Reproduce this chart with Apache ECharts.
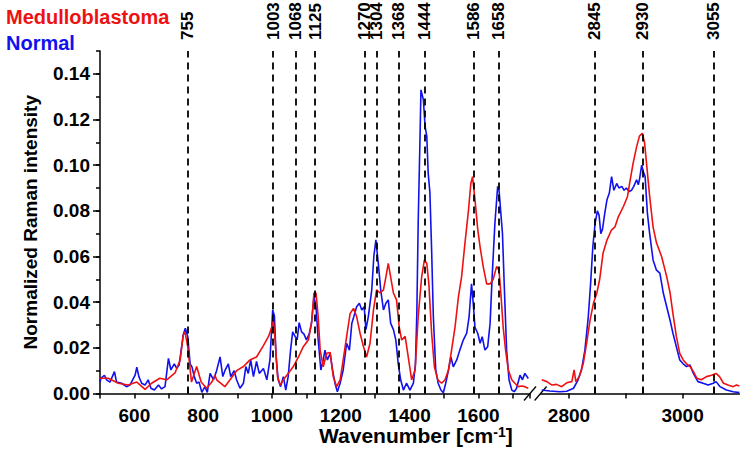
<!DOCTYPE html>
<html>
<head>
<meta charset="utf-8">
<script src="https://cdn.jsdelivr.net/npm/echarts@6/dist/echarts.min.js"></script>
<style>
html,body{margin:0;padding:0;background:#fff;}
#chart{width:742px;height:452px;}
</style>
</head>
<body>
<div id="chart"></div>
<script>
// Peak marker positions (cm^-1)
const peaksLow = [755, 1003, 1068, 1125, 1270, 1304, 1368, 1444, 1586, 1658];
const peaksHigh = [2845, 2930, 3055];
// Tick labels
const yTickValues = [0, 0.02, 0.04, 0.06, 0.08, 0.10, 0.12, 0.14];
const xLowLabels = [600, 800, 1000, 1200, 1400, 1600];
const xHighTicks = [2800, 2900, 3000];
const xHighLabels = [2800, 3000];

// Normal tissue, fingerprint region [wavenumber, intensity]
const normalLow = [[500,0.005],[503,0.0067],[513,0.008],[519,0.006],[529,0.005],[542,0.0096],[548,0.005],[563,0.0045],[577,0.003],[587,0.0037],[602,0.008],[607,0.0115],[613,0.0074],[621,0.0045],[631,0.0037],[640,0.006],[648,0.0023],[658,0.0015],[670,0.0037],[679,0.002],[689,0.003],[699,0.0154],[706,0.0103],[716,0.013],[723,0.011],[730,0.0125],[736,0.019],[742,0.0257],[748,0.0286],[755,0.025],[762,0.013],[767,0.0118],[774,0.0074],[781,0.0045],[788,0.005],[796,0.0005],[805,0.003],[812,0.0005],[820,0.0088],[830,0.006],[839,0.010],[849,0.016],[857,0.0074],[863,0.010],[873,0.013],[880,0.0074],[890,0.010],[897,0.006],[907,0.0023],[917,0.0045],[924,0.0118],[931,0.0088],[938,0.0147],[946,0.0074],[955,0.014],[963,0.0088],[975,0.011],[985,0.006],[994,0.0147],[1002,0.0366],[1007,0.034],[1012,0.016],[1018,0.006],[1025,0.003],[1033,0.0074],[1040,0.0015],[1047,0.0074],[1054,0.019],[1060,0.027],[1067,0.025],[1073,0.0235],[1079,0.031],[1086,0.027],[1093,0.026],[1100,0.0235],[1108,0.026],[1115,0.031],[1122,0.0425],[1128,0.038],[1134,0.024],[1142,0.0103],[1149,0.0147],[1154,0.019],[1161,0.0147],[1169,0.0176],[1176,0.0103],[1183,0.0045],[1190,0.0008],[1198,0.0045],[1207,0.0103],[1217,0.022],[1225,0.019],[1232,0.0307],[1238,0.0337],[1246,0.038],[1254,0.0395],[1261,0.0366],[1268,0.038],[1273,0.028],[1280,0.0337],[1290,0.0454],[1296,0.060],[1302,0.0673],[1309,0.057],[1316,0.0454],[1324,0.0366],[1331,0.0395],[1338,0.041],[1345,0.0307],[1353,0.028],[1360,0.0234],[1367,0.013],[1374,0.006],[1382,0.0015],[1391,0.0045],[1401,0.0015],[1411,0.0045],[1417,0.013],[1421,0.035],[1425,0.075],[1430,0.11],[1433,0.133],[1440,0.1287],[1445,0.117],[1450,0.1126],[1454,0.0966],[1459,0.088],[1464,0.063],[1469,0.0337],[1476,0.0103],[1483,0.0045],[1491,0.0015],[1498,0.0003],[1505,0.0045],[1513,0.0103],[1520,0.016],[1527,0.0117],[1537,0.0147],[1546,0.019],[1556,0.0234],[1566,0.0264],[1573,0.0337],[1580,0.048],[1585,0.0395],[1590,0.029],[1598,0.0264],[1605,0.022],[1611,0.0249],[1619,0.019],[1627,0.0205],[1634,0.0307],[1640,0.0512],[1648,0.0746],[1656,0.0907],[1660,0.089],[1666,0.0775],[1670,0.070],[1675,0.048],[1682,0.019],[1689,0.006],[1697,0.0015],[1704,0.0008],[1711,0.0023],[1721,0.008],[1728,0.006],[1735,0.0088],[1745,0.0066]];

// Medulloblastoma, fingerprint region
const medulloLow = [[500,0.0067],[524,0.0067],[553,0.0045],[582,0.0037],[607,0.005],[631,0.0018],[650,0.0045],[674,0.0067],[694,0.006],[718,0.009],[733,0.0147],[742,0.0257],[747,0.027],[755,0.0205],[766,0.005],[781,0.0118],[794,0.005],[810,0.0023],[825,0.005],[834,0.008],[839,0.006],[863,0.003],[878,0.006],[897,0.010],[917,0.0118],[936,0.0147],[955,0.016],[975,0.021],[990,0.025],[999,0.029],[1004,0.032],[1009,0.0235],[1016,0.0074],[1024,0.0037],[1033,0.006],[1047,0.0088],[1062,0.0118],[1077,0.016],[1091,0.0205],[1106,0.0235],[1115,0.031],[1122,0.044],[1128,0.044],[1134,0.034],[1140,0.019],[1149,0.0117],[1159,0.0176],[1169,0.018],[1178,0.0074],[1188,0.003],[1198,0.006],[1207,0.0147],[1217,0.025],[1227,0.035],[1237,0.0373],[1246,0.0337],[1256,0.0264],[1266,0.0205],[1275,0.016],[1285,0.022],[1295,0.0366],[1304,0.0454],[1314,0.044],[1324,0.0454],[1331,0.051],[1338,0.057],[1345,0.051],[1353,0.044],[1362,0.041],[1370,0.029],[1377,0.0234],[1387,0.025],[1396,0.016],[1406,0.006],[1416,0.0103],[1425,0.0337],[1435,0.051],[1443,0.0585],[1450,0.057],[1456,0.048],[1464,0.0264],[1472,0.0117],[1482,0.006],[1493,0.0045],[1503,0.006],[1513,0.0103],[1522,0.019],[1532,0.029],[1542,0.0424],[1551,0.051],[1561,0.066],[1571,0.080],[1578,0.092],[1583,0.095],[1590,0.085],[1598,0.072],[1605,0.064],[1614,0.0556],[1624,0.048],[1634,0.048],[1643,0.050],[1653,0.0556],[1660,0.054],[1666,0.0424],[1672,0.029],[1679,0.019],[1687,0.0103],[1697,0.006],[1706,0.0045],[1716,0.003],[1726,0.0033],[1735,0.003],[1745,0.0023]];

// Normal tissue, high-wavenumber region
const normalHigh = [[2752,0.0015],[2766,0.0011],[2784,0.0008],[2796,0.001],[2808,0.0023],[2816,0.006],[2822,0.0103],[2828,0.019],[2834,0.0337],[2838,0.048],[2842,0.0644],[2846,0.0746],[2850,0.080],[2853,0.078],[2856,0.070],[2859,0.072],[2863,0.079],[2867,0.085],[2871,0.0878],[2875,0.095],[2879,0.089],[2884,0.092],[2888,0.090],[2893,0.0907],[2897,0.089],[2901,0.090],[2906,0.0885],[2910,0.089],[2914,0.0907],[2919,0.0936],[2922,0.0914],[2924,0.0936],[2928,0.100],[2931,0.097],[2934,0.095],[2938,0.079],[2942,0.070],[2948,0.0585],[2954,0.054],[2960,0.0527],[2966,0.044],[2972,0.038],[2978,0.032],[2983,0.0264],[2989,0.0205],[2995,0.0147],[3001,0.013],[3007,0.0118],[3013,0.0125],[3019,0.0088],[3027,0.0052],[3036,0.0045],[3045,0.0037],[3054,0.0045],[3059,0.0052],[3066,0.003],[3077,0.0015],[3089,0.0008],[3100,0.0004]];

// Medulloblastoma, high-wavenumber region
const medulloHigh = [[2752,0.006],[2761,0.0052],[2770,0.0037],[2778,0.004],[2787,0.003],[2796,0.0047],[2805,0.0052],[2809,0.0103],[2812,0.0052],[2818,0.0074],[2825,0.013],[2831,0.022],[2837,0.032],[2843,0.0395],[2849,0.044],[2854,0.050],[2860,0.0615],[2867,0.0673],[2875,0.0717],[2881,0.073],[2887,0.0775],[2896,0.082],[2903,0.0863],[2907,0.0925],[2913,0.101],[2919,0.108],[2924,0.1127],[2929,0.114],[2933,0.110],[2937,0.0995],[2942,0.0863],[2948,0.073],[2954,0.066],[2963,0.060],[2972,0.0512],[2978,0.044],[2983,0.035],[2989,0.025],[2995,0.0176],[3001,0.0147],[3007,0.013],[3013,0.0118],[3019,0.0096],[3025,0.0067],[3033,0.006],[3042,0.0074],[3051,0.008],[3059,0.0088],[3065,0.0074],[3072,0.0045],[3080,0.0037],[3089,0.003],[3095,0.0037],[3100,0.0033]];

const RED = '#ee1111';
const BLUE = '#1111ee';
const FONT = '"Liberation Sans", Arial, sans-serif';

const chart = echarts.init(document.getElementById('chart'), null, {renderer: 'svg'});

const axisLineStyle = {color: '#000', width: 1.5};
const plain = v => String(v);
function markLines(peaks) {
  return {
    silent: true,
    symbol: ['none', 'none'],
    label: {show: false},
    lineStyle: {color: '#000', type: [7, 5], width: 1.8},
    emphasis: {disabled: true},
    data: peaks.map(v => ({xAxis: v}))
  };
}
function lineSeries(name, color, data, xi, yi, peaks) {
  const s = {
    name: name, type: 'line', data: data,
    xAxisIndex: xi, yAxisIndex: yi,
    showSymbol: false, symbol: 'none', smooth: false,
    color: color,
    lineStyle: {color: color, width: 1.6},
    emphasis: {disabled: true},
    animation: false
  };
  if (peaks) s.markLine = markLines(peaks);
  return s;
}
const tickLabel = {fontFamily: FONT, fontSize: 19, fontWeight: 'bold', color: '#000'};
const peakLabel = {rotate: 90, formatter: plain, fontFamily: FONT, fontSize: 17, fontWeight: 'bold', color: '#000', margin: 11};

const option = {
  animation: false,
  textStyle: {fontFamily: FONT},
  title: {
    text: 'Wavenumber [cm{sup|-1}]',
    left: 319, top: 425,
    padding: 0,
    textStyle: {
      fontFamily: FONT, fontSize: 21, fontWeight: 'bold', color: '#000',
      rich: {sup: {fontFamily: FONT, fontSize: 14, fontWeight: 'bold', color: '#000', verticalAlign: 'top', lineHeight: 14}}
    }
  },
  legend: {
    orient: 'vertical', left: -4, top: 2, itemGap: 6,
    itemWidth: 0, itemHeight: 0, icon: 'none',
    selectedMode: false,
    textStyle: {fontFamily: FONT, fontSize: 20, fontWeight: 'bold'},
    data: [
      {name: 'Medulloblastoma', textStyle: {color: RED}},
      {name: 'Normal', textStyle: {color: BLUE}}
    ]
  },
  grid: [
    {left: 100, top: 51, width: 430, height: 342.5, outerBoundsMode: 'none'},
    {left: 540.6, top: 51, width: 198.8, height: 342.5, outerBoundsMode: 'none'}
  ],
  xAxis: [
    {
      type: 'value', gridIndex: 0, position: 'bottom', min: 500, max: 1750, interval: 100,
      axisLine: {show: true, onZero: false, lineStyle: axisLineStyle},
      axisTick: {show: true, inside: false, length: 5, lineStyle: axisLineStyle},
      axisLabel: Object.assign({customValues: xLowLabels, formatter: plain, margin: 12}, tickLabel),
      splitLine: {show: false}
    },
    {
      type: 'value', gridIndex: 1, position: 'bottom', min: 2750, max: 3100,
      axisLine: {show: true, onZero: false, lineStyle: axisLineStyle},
      axisTick: {show: true, customValues: xHighTicks, length: 5, lineStyle: axisLineStyle},
      axisLabel: Object.assign({customValues: xHighLabels, formatter: plain, margin: 12}, tickLabel),
      splitLine: {show: false}
    },
    {
      type: 'value', gridIndex: 0, position: 'top', min: 500, max: 1750,
      axisLine: {show: false},
      axisTick: {show: true, customValues: peaksLow, length: 6, lineStyle: {color: '#000', width: 1.8}},
      axisLabel: Object.assign({customValues: peaksLow}, peakLabel),
      splitLine: {show: false}
    },
    {
      type: 'value', gridIndex: 1, position: 'top', min: 2750, max: 3100,
      axisLine: {show: false},
      axisTick: {show: true, customValues: peaksHigh, length: 6, lineStyle: {color: '#000', width: 1.8}},
      axisLabel: Object.assign({customValues: peaksHigh}, peakLabel),
      splitLine: {show: false}
    }
  ],
  yAxis: [
    {
      type: 'value', gridIndex: 0, position: 'left', offset: 0, min: 0, max: 0.15, interval: 0.01,
      axisLine: {show: true, lineStyle: axisLineStyle},
      axisTick: {show: true, length: 4, lineStyle: axisLineStyle},
      axisLabel: {show: false},
      splitLine: {show: false}
    },
    {
      type: 'value', gridIndex: 0, position: 'left', offset: 0, min: 0, max: 0.15,
      axisLine: {show: false},
      axisTick: {show: true, customValues: yTickValues, length: 7, lineStyle: axisLineStyle},
      axisLabel: Object.assign({customValues: yTickValues, formatter: v => v.toFixed(2), margin: 10}, tickLabel),
      splitLine: {show: false},
      name: 'Normalized Raman intensity',
      nameLocation: 'middle', nameGap: 60,
      nameTextStyle: {fontFamily: FONT, fontSize: 19, fontWeight: 'bold', color: '#000'}
    },
    {
      type: 'value', gridIndex: 1, min: 0, max: 0.15, show: false,
      splitLine: {show: false}
    }
  ],
  series: [
    lineSeries('Normal', BLUE, normalLow, 0, 0, peaksLow),
    lineSeries('Medulloblastoma', RED, medulloLow, 0, 0, null),
    lineSeries('Normal', BLUE, normalHigh, 1, 2, peaksHigh),
    lineSeries('Medulloblastoma', RED, medulloHigh, 1, 2, null)
  ]
};
chart.setOption(option);

// Axis-break marks at the ends of the two x-axis segments
const endLow = chart.convertToPixel({xAxisIndex: 0, yAxisIndex: 0}, [1750, 0]);
const startHigh = chart.convertToPixel({xAxisIndex: 1, yAxisIndex: 2}, [2750, 0]);
function slash(p) {
  return {
    type: 'line', silent: true,
    shape: {x1: p[0] - 6, y1: p[1] + 7, x2: p[0] + 6, y2: p[1] - 7},
    style: {stroke: '#000', lineWidth: 1.3}
  };
}
chart.setOption({graphic: [slash(endLow), slash(startHigh)]});
</script>
</body>
</html>
